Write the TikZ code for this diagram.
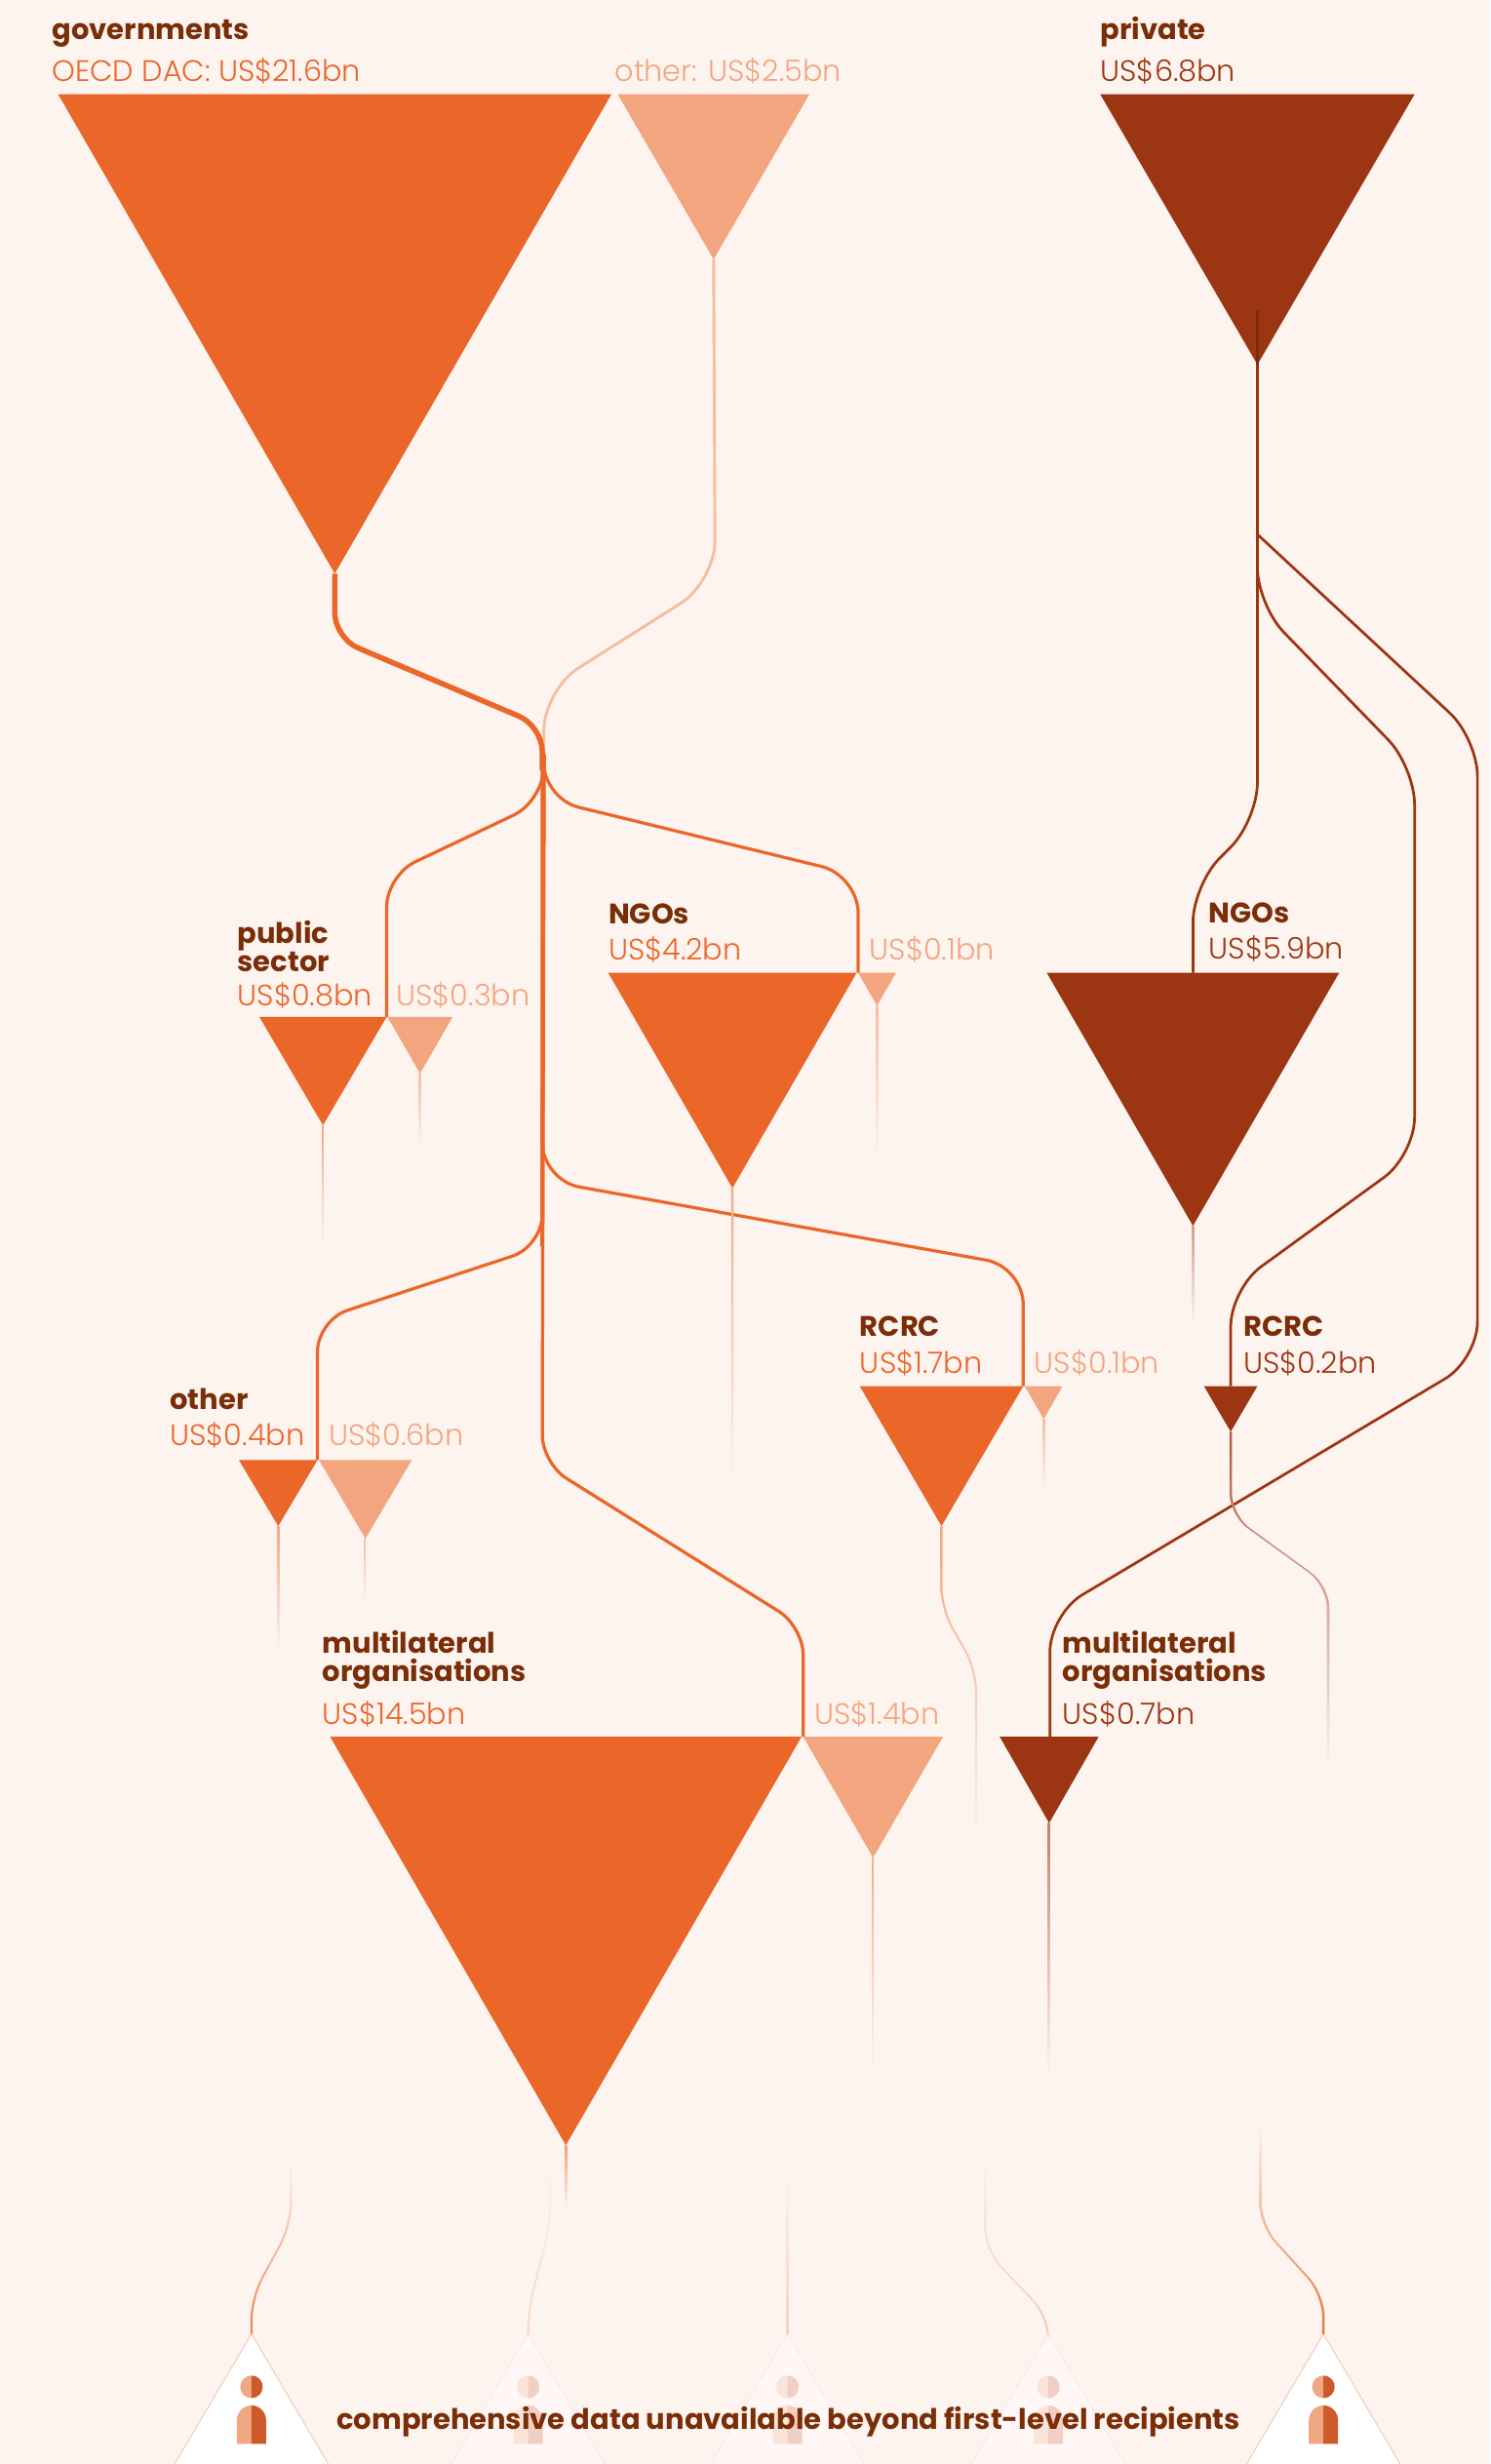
\documentclass[tikz,border=0pt]{standalone}
\usepackage{fontspec}
\usetikzlibrary{calc}
\newfontfamily\hdfont{Poppins}[UprightFont=*-Bold]
\newfontfamily\valfont{Poppins}[UprightFont=*-Light]
\definecolor{bg}{HTML}{FDF4F0}
\definecolor{orangeC}{HTML}{EA6629}
\definecolor{lightC}{HTML}{F2A57E}
\definecolor{darkC}{HTML}{9C3612}
\definecolor{headC}{HTML}{7A2E08}
\definecolor{linkL}{HTML}{F3BFA0}
\definecolor{edgeC}{HTML}{F4C9AE}
\definecolor{iconL}{HTML}{F0A884}
\definecolor{iconD}{HTML}{CD5A2A}
\tikzset{
  head/.style={anchor=base west,inner sep=0pt,font=\hdfont\fontsize{18}{18}\selectfont,text=headC},
  val/.style={anchor=base west,inner sep=0pt,font=\valfont\fontsize{18.8}{19}\selectfont},
  valO/.style={val,text=orangeC},
  valL/.style={val,text=lightC},
  valD/.style={val,text=darkC},
  linkO/.style={draw=orangeC,line width=2pt,rounded corners=20pt},
  linkD/.style={draw=darkC,line width=1.7pt,rounded corners=24pt},
}
% name, left x, right x, top y, apex y, colour
\newcommand{\tri}[6]{%
  \coordinate (#1-l) at (#2,#4);
  \coordinate (#1-r) at (#3,#4);
  \coordinate (#1) at ({(#2+#3)/2},#5);
  \fill[#6] (#1-l) -- (#1-r) -- (#1) -- cycle;}
% straight fading stem: top colour, bottom colour, half width, from, to
\newcommand{\stemS}[5]{\shade[top color=#1,bottom color=#2] ([xshift=-#3pt]#4) rectangle ([xshift=#3pt]#5);}
% bent fading stem with four points (only the two inner bends are rounded)
\newcommand{\stemB}[7]{\shade[top color=#1,bottom color=#2]
  ([xshift=-#3pt]#4) [rounded corners=14pt] -- ([xshift=-#3pt]#5) -- ([xshift=-#3pt]#6) [sharp corners] -- ([xshift=-#3pt]#7)
  -- ([xshift=#3pt]#7) [rounded corners=14pt] -- ([xshift=#3pt]#6) -- ([xshift=#3pt]#5) [sharp corners] -- ([xshift=#3pt]#4) -- cycle;}
% recipient triangle with person icon: name, apex x, fill, opacity
\newcommand{\recip}[4]{%
  \coordinate (#1) at (#2,1485);
  \fill[#3] (#2-49,1568) -- (#1) -- (#2+49,1568) -- cycle;
  \draw[edgeC,line width=.6pt,opacity=#4] (#2-49,1568) -- (#1) -- (#2+49,1568);
  \begin{scope}[opacity=#4]
    \fill[iconL] (#2,1511.5) arc[start angle=-90,end angle=-270,radius=7.2];
    \fill[iconD] (#2,1511.5) arc[start angle=-90,end angle=90,radius=7.2];
    \fill[iconL] (#2,1530.5) arc[start angle=-90,end angle=-180,x radius=9.3,y radius=9.5] -- (#2-9.3,1555) -- (#2,1555) -- cycle;
    \fill[iconD] (#2,1530.5) arc[start angle=-90,end angle=0,x radius=9.3,y radius=9.5] -- (#2+9.3,1555) -- (#2,1555) -- cycle;
  \end{scope}}
\begin{document}
\begin{tikzpicture}[x=1pt,y=-1pt]
\useasboundingbox (0,0) rectangle (948,1567.8);
\fill[bg] (0,0) rectangle (948,1567.8);

% bend coordinates
\coordinate (hubA) at (345,490);
\coordinate (g1) at (213,406);
\coordinate (g2) at (345,462);
\coordinate (l1) at (455,370);
\coordinate (l2) at (346,439);
\coordinate (hubB) at (346,480);
\coordinate (p1) at (345,510);
\coordinate (p2) at (246,557);
\coordinate (n1) at (345,508);
\coordinate (n2) at (546,557);
\coordinate (r1) at (345,751);
\coordinate (r2) at (651,806);
\coordinate (o1) at (345,793);
\coordinate (o2) at (202,840);
\coordinate (m1) at (345,931);
\coordinate (m2) at (511,1035);
\coordinate (a1) at (800,522);
\coordinate (a2) at (759,563);
\coordinate (b0) at (800,385);
\coordinate (b1) at (900,488);
\coordinate (b2) at (900,735);
\coordinate (b3) at (783,820);
\coordinate (c0) at (800,340);
\coordinate (c1) at (940,470);
\coordinate (c2) at (940,865);
\coordinate (c3) at (668,1027);

% triangles
\tri{gov}{37}{389}{60}{365}{orangeC}
\tri{oth}{393}{515}{60}{165}{lightC}
\tri{prv}{700}{900}{60}{232}{darkC}
\tri{pub}{165}{246}{647}{716}{orangeC}
\tri{pubL}{246.5}{288}{647}{683}{lightC}
\tri{ngo}{387}{545}{619}{756}{orangeC}
\tri{ngoL}{546}{570}{619}{640}{lightC}
\tri{ngoP}{666}{852}{619}{780}{darkC}
\tri{ot}{152}{202}{929}{971}{orangeC}
\tri{otL}{203}{262}{929}{979}{lightC}
\tri{rc}{547}{651}{882}{971}{orangeC}
\tri{rcL}{652}{676}{882}{903}{lightC}
\tri{rcP}{766}{800}{882}{911}{darkC}
\tri{mu}{210}{510}{1105}{1365}{orangeC}
\tri{muL}{511}{600}{1105}{1182}{lightC}
\tri{muP}{636}{699}{1105}{1160}{darkC}

% connector top points and bottoms
\coordinate (pubT) at (246,647);
\coordinate (ngoT) at (546,619);
\coordinate (otT) at (202,929);
\coordinate (rcT) at (651,882);
\coordinate (muT) at (511,1105);
\coordinate (ngoPT) at (759,619);
\coordinate (rcPT) at (783,882);
\coordinate (muPT) at (668,1105);
\coordinate (prvIn) at (800,197);

% government links
\path[draw=linkL,line width=1.8pt,rounded corners=26pt] (oth) -- (l1) -- (l2) -- (hubB);
\path[draw=orangeC,line width=3.4pt,rounded corners=16pt] (gov) -- (g1) -- (g2) -- (hubA);
\path[linkO] (hubB) -- (p1) -- (p2) -- (pubT);
\path[linkO,rounded corners=24pt] (hubB) -- (n1) -- (n2) -- (ngoT);
\path[draw=orangeC,line width=2.6pt] (hubB) -- (o1);
\path[linkO] (o1 |- hubB) -- (o1) -- (o2) -- (otT);
\path[linkO,rounded corners=24pt] (hubB) -- (r1) -- (r2) -- (rcT);
\path[linkO,rounded corners=18pt] (hubB) -- (m1) -- (m2) -- (muT);

% private links
\path[draw=headC,line width=1.7pt] (prvIn) -- (prv);
\path[linkD] (prv) -- (a1) -- (a2) -- (ngoPT);
\path[linkD] (c0) -- (c1) -- (c2) -- (c3) -- (muPT);
\path[linkD] (c0) -- (b0) -- (b1) -- (b2) -- (b3) -- (rcPT);

% stems fading downwards
\coordinate (e1) at (205,795);\stemS{orangeC!55!bg}{bg}{.7}{pub}{e1}
\coordinate (e2) at (267,730);\stemS{lightC!70!bg}{bg}{.7}{pubL}{e2}
\coordinate (e3) at (466,945);\stemS{orangeC!55!bg}{bg}{.7}{ngo}{e3}
\coordinate (e4) at (558,738);\stemS{lightC!70!bg}{bg}{.7}{ngoL}{e4}
\coordinate (e5) at (759,843);\stemS{darkC!45!bg}{bg}{.8}{ngoP}{e5}
\coordinate (e6) at (177,1050);\stemS{orangeC!55!bg}{bg}{.7}{ot}{e6}
\coordinate (e7) at (232,1020);\stemS{lightC!70!bg}{bg}{.7}{otL}{e7}
\coordinate (e8) at (664,948);\stemS{lightC!70!bg}{bg}{.7}{rcL}{e8}
\coordinate (e9) at (555,1320);\stemS{lightC!90!bg}{bg}{.8}{muL}{e9}
\coordinate (e10) at (667,1322);\stemS{darkC!60!bg}{bg}{.8}{muP}{e10}
\coordinate (e11) at (360,1405);\stemS{orangeC!60!bg}{bg}{.7}{mu}{e11}
\coordinate (f1) at (599,1024);\coordinate (f2) at (621,1062);\coordinate (f3) at (621,1175);
\stemB{orangeC!55!bg}{bg}{.7}{rc}{f1}{f2}{f3}
\coordinate (h1) at (783,964);\coordinate (h2) at (845,1009);\coordinate (h3) at (845,1128);
\stemB{darkC!80!bg}{bg}{.8}{rcP}{h1}{h2}{h3}

% recipient triangles
\recip{t1}{160}{white}{1}
\recip{t2}{336}{white!30!bg}{.25}
\recip{t3}{501}{white!30!bg}{.25}
\recip{t4}{667}{white!30!bg}{.25}
\recip{t5}{842}{white}{1}

% stems into the recipients
\coordinate (s1a) at (185,1375);\coordinate (s1b) at (185,1416);\coordinate (s1c) at (160,1462);
\stemB{bg}{orangeC!80!bg}{.7}{s1a}{s1b}{s1c}{t1}
\coordinate (s2a) at (350,1375);\coordinate (s2b) at (350,1416);\coordinate (s2c) at (336,1470);
\stemB{bg}{lightC!40!bg}{.6}{s2a}{s2b}{s2c}{t2}
\coordinate (s3a) at (501,1380);
\stemS{bg}{lightC!45!bg}{.6}{s3a}{t3}
\coordinate (s4a) at (627,1371);\coordinate (s4b) at (627,1432);\coordinate (s4c) at (667,1474);
\stemB{bg}{lightC!60!bg}{.6}{s4a}{s4b}{s4c}{t4}
\coordinate (s5a) at (802,1350);\coordinate (s5b) at (802,1416);\coordinate (s5c) at (842,1460);
\stemB{bg}{orangeC!90!bg}{.8}{s5a}{s5b}{s5c}{t5}

% labels
\node[head] (tGov) at (33,25) {governments};
\node[valO] (tGovV) at (33,52) {OECD DAC: US\$21.6bn};
\node[valL] (tOth) at (391,52) {other: US\$2.5bn};
\node[head] (tPrv) at (700,25) {private};
\node[valD] (tPrvV) at (700,52) {US\$6.8bn};
\node[head] (tPub1) at (151,600) {public};
\node[head] (tPub2) at (151,618) {sector};
\node[valO] (tPubV) at (151,640) {US\$0.8bn};
\node[valL] (tPubL) at (252,640) {US\$0.3bn};
\node[head] (tNgo) at (387,588) {NGOs};
\node[valO] (tNgoV) at (387,611) {US\$4.2bn};
\node[valL] (tNgoL) at (553,611) {US\$0.1bn};
\node[head] (tNgoP) at (769,587) {NGOs};
\node[valD] (tNgoPV) at (769,610) {US\$5.9bn};
\node[head] (tOt) at (108,897) {other};
\node[valO] (tOtV) at (108,920) {US\$0.4bn};
\node[valL] (tOtL) at (209,920) {US\$0.6bn};
\node[head] (tRc) at (547,850) {RCRC};
\node[valO] (tRcV) at (547,874) {US\$1.7bn};
\node[valL] (tRcL) at (658,874) {US\$0.1bn};
\node[head] (tRcP) at (791,850) {RCRC};
\node[valD] (tRcPV) at (791,874) {US\$0.2bn};
\node[head] (tMu1) at (205,1052) {multilateral};
\node[head] (tMu2) at (205,1070) {organisations};
\node[valO] (tMuV) at (205,1097) {US\$14.5bn};
\node[valL] (tMuL) at (518,1097) {US\$1.4bn};
\node[head] (tMuP1) at (676,1052) {multilateral};
\node[head] (tMuP2) at (676,1070) {organisations};
\node[valD] (tMuPV) at (676,1097) {US\$0.7bn};
\node[head] (tFoot) at (214,1546) {comprehensive data unavailable beyond first-level recipients};
\end{tikzpicture}
\end{document}
